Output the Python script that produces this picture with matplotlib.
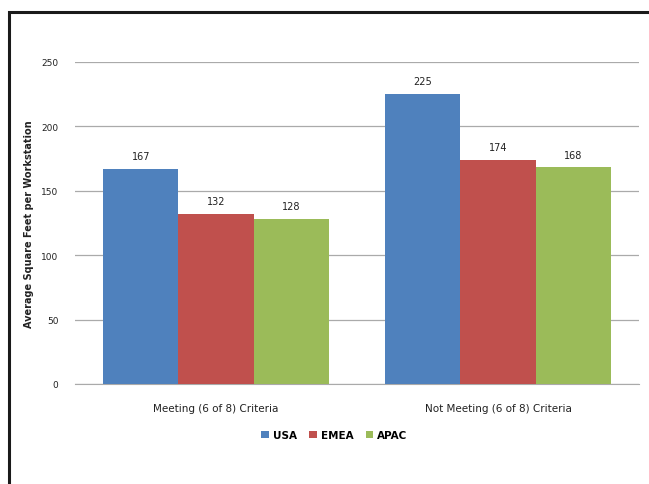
import matplotlib
matplotlib.use("Agg")
import matplotlib.pyplot as plt
from matplotlib.patches import Rectangle
import numpy as np

categories = ["Meeting (6 of 8) Criteria", "Not Meeting (6 of 8) Criteria"]
regions = ["USA", "EMEA", "APAC"]
usa = [167, 225]
emea = [132, 174]
apac = [128, 168]
colors = ["#4F81BD", "#C0504D", "#9BBB59"]

plt.rcParams["font.family"] = ["DejaVu Sans"]

fig = plt.figure(figsize=(6.49, 4.85), dpi=100)
ax = fig.add_axes([0.1156, 0.2062, 0.8690, 0.6645])

# frame around the whole chart, running off the right and bottom edges
fig.patches.append(Rectangle((8.5 / 649, -0.05), 1.2, 1 - 12.5 / 485 + 0.05,
                             transform=fig.transFigure, fill=False,
                             edgecolor="#1a1a1a", linewidth=2.2))

x = np.arange(len(categories))
width = 0.267
series = [usa, emea, apac]
for i, (name, vals) in enumerate(zip(regions, series)):
    pos = x + (i - 1) * width
    bars = ax.bar(pos, vals, width, color=colors[i], label=name, zorder=3)
    for b, v in zip(bars, vals):
        ax.text(b.get_x() + b.get_width() / 2, v + 6, str(v),
                ha="center", va="bottom", fontsize=7, color="#222222")

ax.set_xlim(-0.5, 1.5)
ax.set_ylim(0, 250)
ax.set_yticks([0, 50, 100, 150, 200, 250])
ax.grid(axis="y", color="#aaaaaa", linewidth=0.9, zorder=0)
ax.set_xticks(x)
ax.set_xticklabels(categories, fontsize=7.5, color="#222222")
ax.tick_params(axis="y", length=0, labelsize=6.5, colors="#222222", pad=12)
ax.tick_params(axis="x", length=0, colors="#222222", pad=14)
for s in ["top", "right", "left"]:
    ax.spines[s].set_visible(False)
ax.spines["bottom"].set_color("#aaaaaa")
ax.set_ylabel("Average Square Feet per Workstation", fontsize=7,
              fontweight="bold", color="#222222", labelpad=5)

ax.legend(loc="upper center", bbox_to_anchor=(0.46, -0.115), ncol=3,
          frameon=False, handlelength=0.7, handleheight=0.7,
          handletextpad=0.4, columnspacing=1.2,
          prop={"weight": "bold", "size": 7.5})

fig.savefig("out.png", dpi=100, facecolor="white")
